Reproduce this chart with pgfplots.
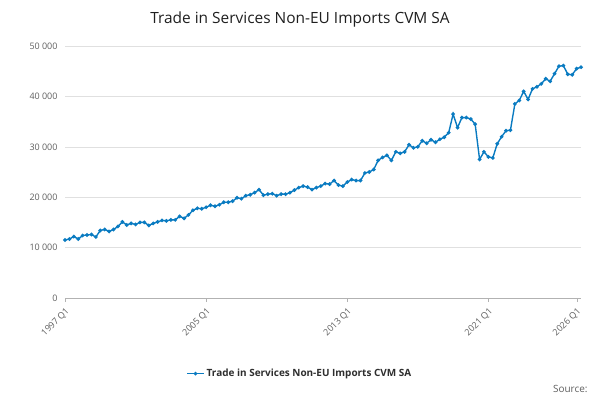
\documentclass[border=0pt]{standalone}
\usepackage{pgfplots}
\pgfplotsset{compat=1.18}
\usepackage{fontspec}
\setmainfont{Open Sans}
\definecolor{ln}{HTML}{0A7BC1}
\definecolor{tk}{HTML}{5F5F5F}
\begin{document}
\begin{tikzpicture}[x=1bp,y=1bp]
\path (0,0) rectangle (600,400);
\node[font=\fontsize{15.5}{18}\selectfont, text=black!88] at (300,381) {Trade in Services Non-EU Imports CVM SA};
\node[anchor=east, font=\fontsize{10}{12}\selectfont, text=tk] at (591,11) {Source:};
\begin{axis}[at={(65bp,102bp)}, anchor=south west, scale only axis,
 width=516bp, height=252bp,
 xmin=0, xmax=117, ymin=0, ymax=50000,
 scaled y ticks=false,
 xtick={0,32,64,96,116},
 xticklabels={1997 Q1,2005 Q1,2013 Q1,2021 Q1,2026 Q1},
 x tick label style={rotate=45, anchor=north east, font=\fontsize{9}{10}\selectfont, text=tk},
 ytick={0,10000,20000,30000,40000,50000},
 yticklabels={0,10 000,20 000,30 000,40 000,50 000},
 y tick label style={font=\fontsize{9}{10}\selectfont, text=tk},
 ymajorgrids, grid style={draw=black!12},
 axis y line*=left, axis x line*=bottom,
 y axis line style={draw=none}, ytick style={draw=none},
 x axis line style={draw=black!30}, xtick style={draw=black!30},
 tick align=outside, major tick length=4bp,
 legend style={at={(0.455,-0.30)}, anchor=center, draw=none, font=\bfseries\fontsize{10}{12}\selectfont, text=black!82},
 legend cell align=left,
]
\addplot[color=ln, line width=1.4pt, mark=*, mark size=1.1pt] coordinates {
(0,11500)(1,11700)(2,12200)(3,11700)(4,12400)(5,12500)(6,12600)(7,12100)(8,13400)(9,13600)
(10,13200)(11,13600)(12,14200)(13,15100)(14,14500)(15,14800)(16,14600)(17,15000)(18,15000)(19,14400)
(20,14800)(21,15100)(22,15400)(23,15300)(24,15500)(25,15500)(26,16200)(27,15800)(28,16500)(29,17400)
(30,17800)(31,17700)(32,18000)(33,18400)(34,18200)(35,18500)(36,19000)(37,19000)(38,19200)(39,19900)
(40,19700)(41,20300)(42,20500)(43,20900)(44,21500)(45,20400)(46,20600)(47,20700)(48,20300)(49,20600)
(50,20600)(51,20900)(52,21400)(53,21900)(54,22200)(55,22000)(56,21500)(57,21900)(58,22200)(59,22700)
(60,22600)(61,23300)(62,22400)(63,22200)(64,23000)(65,23500)(66,23300)(67,23300)(68,24800)(69,25000)
(70,25500)(71,27300)(72,27900)(73,28300)(74,27300)(75,29000)(76,28700)(77,29000)(78,30400)(79,29800)
(80,30000)(81,31200)(82,30700)(83,31400)(84,30900)(85,31500)(86,31900)(87,32800)(88,36500)(89,33800)
(90,35800)(91,35800)(92,35500)(93,34500)(94,27500)(95,29000)(96,28000)(97,27800)(98,30600)(99,32000)
(100,33200)(101,33300)(102,38500)(103,39200)(104,41000)(105,39400)(106,41500)(107,41900)(108,42500)(109,43500)
(110,43000)(111,44500)(112,46000)(113,46100)(114,44400)(115,44300)(116,45500)(117,45800)
};
\addlegendentry{Trade in Services Non-EU Imports CVM SA}
\end{axis}
\end{tikzpicture}
\end{document}
